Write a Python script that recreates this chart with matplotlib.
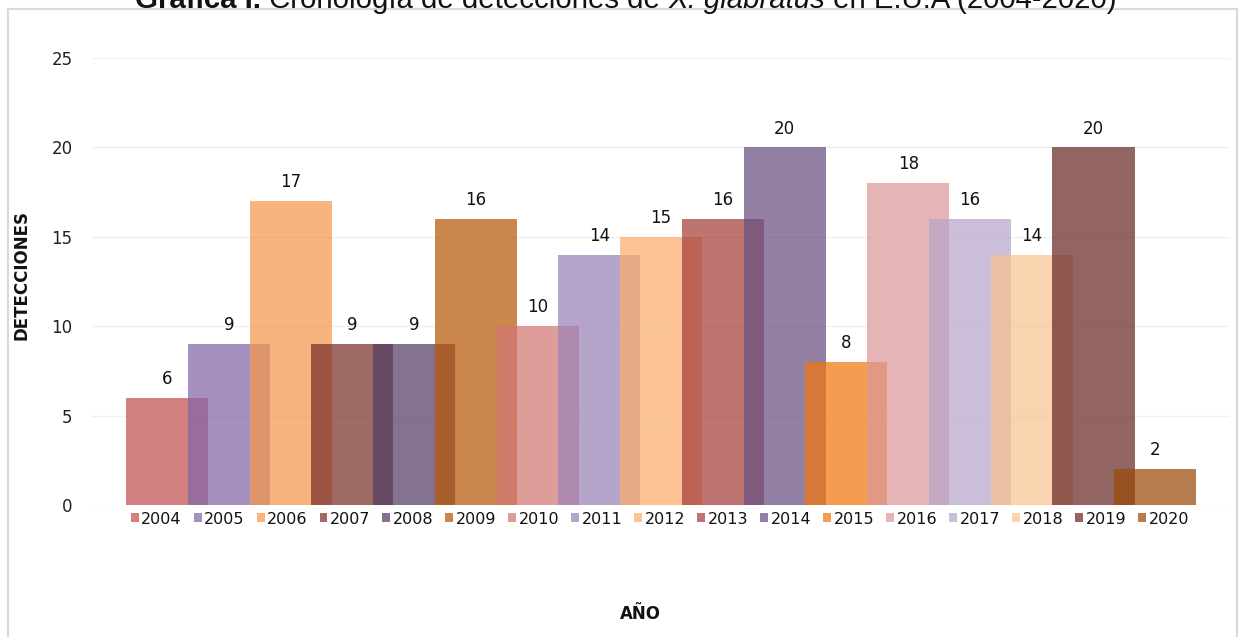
import matplotlib.pyplot as plt
import numpy as np
from matplotlib.lines import Line2D

years = ["2004", "2005", "2006", "2007", "2008", "2009", "2010", "2011", "2012",
         "2013", "2014", "2015", "2016", "2017", "2018", "2019", "2020"]
detections = [6, 9, 17, 9, 9, 16, 10, 14, 15, 16, 20, 8, 18, 16, 14, 20, 2]
colors = ["#C34F4F", "#8266A7", "#F5974C", "#7B302D", "#533D63", "#B75808",
          "#D37774", "#9A83B7", "#FBAE6D", "#A53E3A", "#695082", "#F1760C",
          "#DC9898", "#B7A5CA", "#F9C290", "#682926", "#9B4A09"]
yticks = [0, 5, 10, 15, 20, 25]

plt.rcParams["font.family"] = "DejaVu Sans"

W, H = 1240, 637
fig = plt.figure(figsize=(W / 100, H / 100), dpi=100)
ax = fig.add_axes([92 / W, 1 - 505 / H, (1230 - 92) / W, (505 - 58) / H])

# each year is its own series, wider than its slot so neighbours overlap
width = 1.328
for i, (yr, val, col) in enumerate(zip(years, detections, colors)):
    ax.bar(i, val, width=width, color=col, alpha=0.72, label=yr, linewidth=0)
    ax.text(i, val + 0.55, str(val), ha="center", va="bottom", fontsize=12, color="#111111")

ax.set_xlim(-1.215, 17.21)
ax.set_ylim(0, 25)
ax.set_yticks(yticks)
ax.set_xticks([])
ax.tick_params(axis="y", length=0, pad=14, labelsize=12, labelcolor="#222222")
ax.grid(axis="y", color="#F0F0F0", linewidth=1)
ax.set_axisbelow(True)
for s in ax.spines.values():
    s.set_visible(False)

fig.text(22 / W, 1 - 275 / H, "DETECCIONES", rotation=90, ha="center", va="center",
         fontsize=12, fontweight="bold", color="#111111")
fig.text(640 / W, 1 - 614 / H, "AÑO", ha="center", va="center",
         fontsize=12, fontweight="bold", color="#111111")

handles, labels = ax.get_legend_handles_labels()
fig.legend(handles, labels, ncol=17, loc="center", bbox_to_anchor=(660 / W, 1 - 519 / H),
           frameon=False, fontsize=11.5, handlelength=0.5, handleheight=0.5,
           handletextpad=0.15, columnspacing=0.75, borderpad=0, labelcolor="#111111")

# chart frame (bottom edge runs off the image)
frame_kw = dict(color="#D9D9D9", linewidth=1.5, transform=fig.transFigure, clip_on=False)
fig.add_artist(Line2D([8 / W, 8 / W], [0, 1 - 9 / H], **frame_kw))
fig.add_artist(Line2D([8 / W, 1237 / W], [1 - 9 / H, 1 - 9 / H], **frame_kw))
fig.add_artist(Line2D([1237 / W, 1237 / W], [0, 1 - 9 / H], **frame_kw))

# title in mixed styles, laid out piece by piece
pieces = [("Gráfica I.", dict(fontweight="bold")),
          (" Cronología de detecciones de ", {}),
          ("X. glabratus", dict(fontstyle="italic")),
          (" en E.U.A (2004-2020)", {})]
title_size = 21.2
renderer = fig.canvas.get_renderer()
texts = []
for s, kw in pieces:
    t = fig.text(0, 1 - 8 / H, s, fontsize=title_size, family="Liberation Sans",
                 va="baseline", ha="left", color="#111111", **kw)
    texts.append(t)
widths = [t.get_window_extent(renderer).width for t in texts]
x = 626 - sum(widths) / 2
for t, w in zip(texts, widths):
    t.set_x(x / W)
    x += w

fig.savefig("out.png", dpi=100)
